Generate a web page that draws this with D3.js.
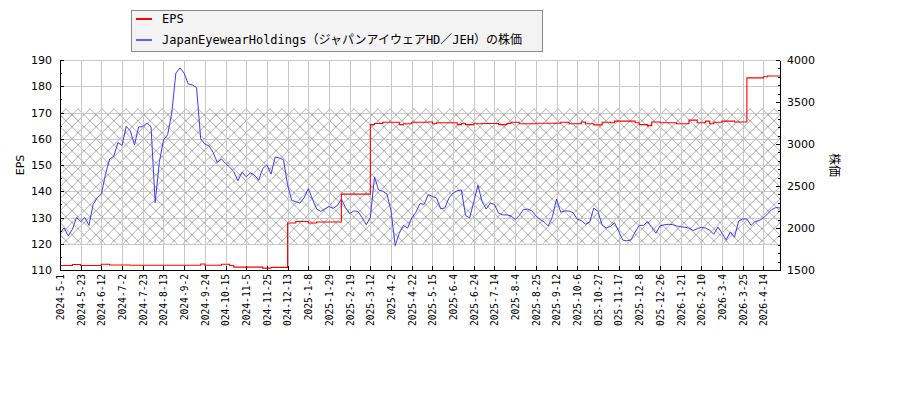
<!DOCTYPE html>
<html lang="ja">
<head>
    <meta charset="UTF-8">
    <title>EPS と株価</title>
    <script src="https://d3js.org/d3.v7.min.js"></script>
    <style>
        body { margin: 0; background: #fff; }
        svg { display: block; }
        .num { font-family: "DejaVu Sans", sans-serif; font-size: 11px; }
        .mono { font-family: "DejaVu Sans Mono", "Noto Sans CJK JP", monospace; }
        .grid line { stroke: #c8c8c8; stroke-width: 1; shape-rendering: crispEdges; }
        .axis path, .axis line { stroke: #000; shape-rendering: crispEdges; }
    </style>
</head>
<body>
<svg id="chart"></svg>
<script>
// x axis: trading-day index, a label every 15 days
const xLabels = ["2024-5-1", "2024-5-23", "2024-6-12", "2024-7-2", "2024-7-23", "2024-8-13",
    "2024-9-2", "2024-9-24", "2024-10-15", "2024-11-5", "2024-11-25", "2024-12-13",
    "2025-1-8", "2025-1-29", "2025-2-19", "2025-3-12", "2025-4-2", "2025-4-22",
    "2025-5-15", "2025-6-4", "2025-6-24", "2025-7-14", "2025-8-4", "2025-8-25",
    "2025-9-12", "2025-10-6", "2025-10-27", "2025-11-17", "2025-12-8", "2025-12-26",
    "2026-1-21", "2026-2-10", "2026-3-4", "2026-3-25", "2026-4-14"];
const labelStep = 15;
const lastDay = 522;
const sampleStep = 3; // one value every 3 trading days

// 株価 (yen), sampled every 3 trading days
const price = [
    1941, 2000, 1906, 1984, 2125, 2078, 2125, 2031, 2281, 2359,
    2406, 2641, 2822, 2853, 3016, 2984, 3209, 3156, 2988, 3203,
    3206, 3250, 3206, 2300, 2781, 3047, 3109, 3366, 3844, 3906,
    3844, 3713, 3703, 3672, 3063, 3000, 2978, 2900, 2781, 2822,
    2769, 2725, 2672, 2563, 2666, 2609, 2656, 2631, 2569, 2709,
    2750, 2641, 2844, 2834, 2813, 2516, 2328, 2313, 2297, 2359,
    2469, 2344, 2228, 2197, 2228, 2256, 2234, 2266, 2344, 2244,
    2172, 2203, 2197, 2125, 2038, 2125, 2609, 2453, 2438, 2406,
    2203, 1790, 1938, 2031, 2000, 2119, 2188, 2291, 2281, 2397,
    2375, 2356, 2228, 2238, 2359, 2416, 2444, 2453, 2150, 2119,
    2313, 2509, 2313, 2225, 2297, 2281, 2175, 2156, 2156, 2144,
    2100, 2150, 2219, 2225, 2206, 2144, 2103, 2072, 2025, 2134,
    2344, 2188, 2203, 2203, 2181, 2106, 2088, 2044, 2069, 2238,
    2197, 2038, 2000, 2019, 2063, 1963, 1856, 1847, 1859, 1953,
    2031, 2031, 2075, 2006, 1938, 2025, 2038, 2044, 2041, 2025,
    2016, 2009, 2000, 1969, 1994, 2006, 2000, 1975, 1925, 2013,
    1938, 1859, 1953, 1891, 2081, 2109, 2106, 2031, 2078, 2088,
    2119, 2169, 2219, 2244, 2238
];

// EPS, same sampling
const eps = [
    111.7, 111.7, 111.7, 112.1, 112.1, 111.7, 111.7, 111.7, 111.7, 111.7,
    112.2, 112.2, 111.9, 111.9, 111.9, 111.9, 111.9, 111.8, 111.8, 111.8,
    111.8, 111.8, 111.8, 111.8, 111.8, 111.8, 111.8, 111.8, 111.8, 111.8,
    111.8, 111.8, 111.8, 111.8, 112.3, 111.8, 111.8, 111.8, 111.8, 112.2,
    112.2, 111.7, 111.1, 111.1, 111.1, 111.1, 111.1, 111.1, 111.1, 110.7,
    110.7, 111.0, 111.0, 111.0, 111.0, 127.9, 127.9, 128.5, 128.5, 128.5,
    127.9, 127.9, 128.3, 128.3, 128.3, 128.3, 128.3, 128.3, 138.9, 138.9,
    138.9, 138.9, 138.9, 138.9, 138.9, 165.4, 165.8, 165.8, 166.3, 166.3,
    166.3, 166.3, 165.4, 165.7, 165.7, 166.3, 166.3, 166.3, 166.3, 166.4,
    165.7, 166.1, 166.1, 166.1, 166.1, 166.1, 165.4, 165.8, 165.4, 165.4,
    165.7, 165.7, 165.8, 165.8, 165.8, 165.8, 165.4, 165.4, 165.8, 166.3,
    166.3, 165.7, 165.7, 165.7, 165.7, 165.9, 165.9, 165.9, 165.9, 165.9,
    165.9, 166.3, 166.3, 165.7, 165.7, 165.7, 166.4, 165.7, 165.7, 165.3,
    165.3, 166.3, 166.3, 166.1, 166.7, 166.7, 166.7, 166.7, 166.7, 166.1,
    165.4, 165.4, 165.0, 166.4, 166.4, 166.1, 166.1, 166.1, 166.1, 165.7,
    165.7, 165.7, 167.1, 167.1, 166.1, 166.1, 166.7, 165.7, 166.3, 166.3,
    166.7, 166.7, 166.7, 166.4, 166.4, 166.4, 183.2, 183.2, 183.2, 183.2,
    183.6, 183.9, 183.9, 183.9, 183.9
];

const epsDomain = [110, 190];
const priceDomain = [1500, 4000];
const bandPrice = [1812, 3420]; // hatched range on the price axis

const seriesNames = ["EPS", "JapanEyewearHoldings（ジャパンアイウェアHD／JEH）の株価"];
const seriesColors = ["#ff0000", "#3a3aff"];

const W = 900, H = 400;
const margin = { top: 60, right: 120, bottom: 130, left: 60 };

const svg = d3.select("#chart").attr("width", W).attr("height", H);

const x = d3.scaleLinear().domain([0, lastDay]).range([margin.left, W - margin.right]);
const yL = d3.scaleLinear().domain(epsDomain).range([H - margin.bottom, margin.top]);
const yR = d3.scaleLinear().domain(priceDomain).range([H - margin.bottom, margin.top]);

const tickDays = xLabels.map((d, i) => i * labelStep);

// hatch pattern
const defs = svg.append("defs");
const pat = defs.append("pattern")
    .attr("id", "hatch")
    .attr("patternUnits", "userSpaceOnUse")
    .attr("x", margin.left).attr("y", yR(bandPrice[1]) - 6)
    .attr("width", 12).attr("height", 12);
pat.append("path")
    .attr("d", "M0,0L12,12M12,0L0,12")
    .attr("stroke", "#9a9a9a")
    .attr("stroke-width", 0.8);

defs.append("clipPath").attr("id", "xlab-clip")
    .append("rect").attr("x", 0).attr("y", yL(epsDomain[0])).attr("width", W).attr("height", 57);

svg.append("rect")
    .attr("x", x(0)).attr("width", x(lastDay) - x(0))
    .attr("y", yR(bandPrice[1])).attr("height", yR(bandPrice[0]) - yR(bandPrice[1]))
    .attr("fill", "url(#hatch)");

// grid
const grid = svg.append("g").attr("class", "grid");
grid.selectAll(".gv").data(tickDays).enter().append("line")
    .attr("x1", d => Math.round(x(d)) + 0.5).attr("x2", d => Math.round(x(d)) + 0.5)
    .attr("y1", yL.range()[1]).attr("y2", yL.range()[0]);
grid.selectAll(".gh").data(d3.range(epsDomain[0], epsDomain[1] + 1, 10)).enter().append("line")
    .attr("x1", x(0)).attr("x2", x(lastDay))
    .attr("y1", d => Math.round(yL(d)) + 0.5).attr("y2", d => Math.round(yL(d)) + 0.5);

// lines
const days = price.map((d, i) => i * sampleStep);

svg.append("path")
    .datum(price)
    .attr("fill", "none")
    .attr("stroke", seriesColors[1])
    .attr("stroke-width", 1)
    .attr("d", d3.line().x((d, i) => x(days[i])).y(d => yR(d)));

svg.append("path")
    .datum(eps)
    .attr("fill", "none")
    .attr("stroke", seriesColors[0])
    .attr("stroke-width", 1.1)
    .attr("d", d3.line().curve(d3.curveStepAfter).x((d, i) => x(days[i])).y(d => yL(d)));

// axes
const left = svg.append("g").attr("class", "axis num").attr("transform", `translate(${x(0)},0)`);
left.call(d3.axisLeft(yL).tickValues(d3.range(110, 191, 10)).tickSize(-4).tickSizeOuter(0).tickPadding(8));
left.append("g").call(d3.axisLeft(yL).tickValues(d3.range(115, 190, 10)).tickSize(-2).tickSizeOuter(0).tickFormat(""))
    .select(".domain").remove();

const right = svg.append("g").attr("class", "axis num").attr("transform", `translate(${x(lastDay)},0)`);
right.call(d3.axisRight(yR).tickValues(d3.range(1500, 4001, 500)).tickSize(-4).tickSizeOuter(0)
    .tickPadding(7).tickFormat(d3.format("d")));
right.append("g").call(d3.axisRight(yR).tickValues(d3.range(1600, 4000, 100).filter(d => d % 500)).tickSize(-2).tickSizeOuter(0).tickFormat(""))
    .select(".domain").remove();

svg.selectAll(".axis.num text").attr("font-size", 11).attr("fill", "#000")
    .attr("font-family", "DejaVu Sans, sans-serif");

const bottom = svg.append("g").attr("class", "axis").attr("transform", `translate(0,${yL(epsDomain[0])})`);
bottom.call(d3.axisBottom(x).tickValues(tickDays).tickSize(-4).tickSizeOuter(0)
    .tickFormat((d, i) => xLabels[i]));
bottom.selectAll("text")
    .attr("class", "mono")
    .attr("font-size", 9.6)
    .attr("fill", "#000")
    .attr("transform", "rotate(-90)")
    .attr("text-anchor", "end")
    .attr("x", -4).attr("y", 0).attr("dy", "0.35em");
// long labels are cut at the bottom edge like the original
const xlab = svg.append("g").attr("clip-path", "url(#xlab-clip)");
bottom.selectAll(".tick").each(function() {
    const t = d3.select(this).select("text").node();
    const g = xlab.append("g").attr("transform", d3.select(this).attr("transform") + ` translate(0,${yL(epsDomain[0])})`);
    g.node().appendChild(t);
});

// axis titles
svg.append("text")
    .attr("transform", `translate(24,${(yL.range()[0] + yL.range()[1]) / 2}) rotate(-90)`)
    .attr("text-anchor", "middle")
    .attr("font-family", "DejaVu Sans, sans-serif")
    .attr("font-size", 11)
    .text("EPS");

svg.append("text")
    .attr("transform", `translate(830,${(yL.range()[0] + yL.range()[1]) / 2}) rotate(90)`)
    .attr("text-anchor", "middle")
    .attr("font-family", "Noto Sans CJK JP, sans-serif")
    .attr("font-size", 12)
    .text("株価");

// legend
const lg = svg.append("g").attr("transform", "translate(131,10)");
const lgBox = lg.append("rect")
    .attr("x", 0.5).attr("y", 0.5).attr("height", 41)
    .attr("fill", "#f3f3f3").attr("stroke", "#888");
let maxW = 0;
seriesNames.forEach((name, i) => {
    const cy = 9 + i * 21;
    lg.append("line").attr("x1", 5).attr("x2", 21).attr("y1", cy).attr("y2", cy)
        .attr("stroke", seriesColors[i]).attr("stroke-width", i === 0 ? 2 : 1.6);
    const t = lg.append("text").attr("class", "mono").attr("x", 31).attr("y", cy).attr("dy", "0.35em")
        .attr("font-size", 12).text(name);
    maxW = Math.max(maxW, t.node().getComputedTextLength());
});
lgBox.attr("width", Math.max(411, 31 + maxW + 8));
</script>
</body>
</html>
